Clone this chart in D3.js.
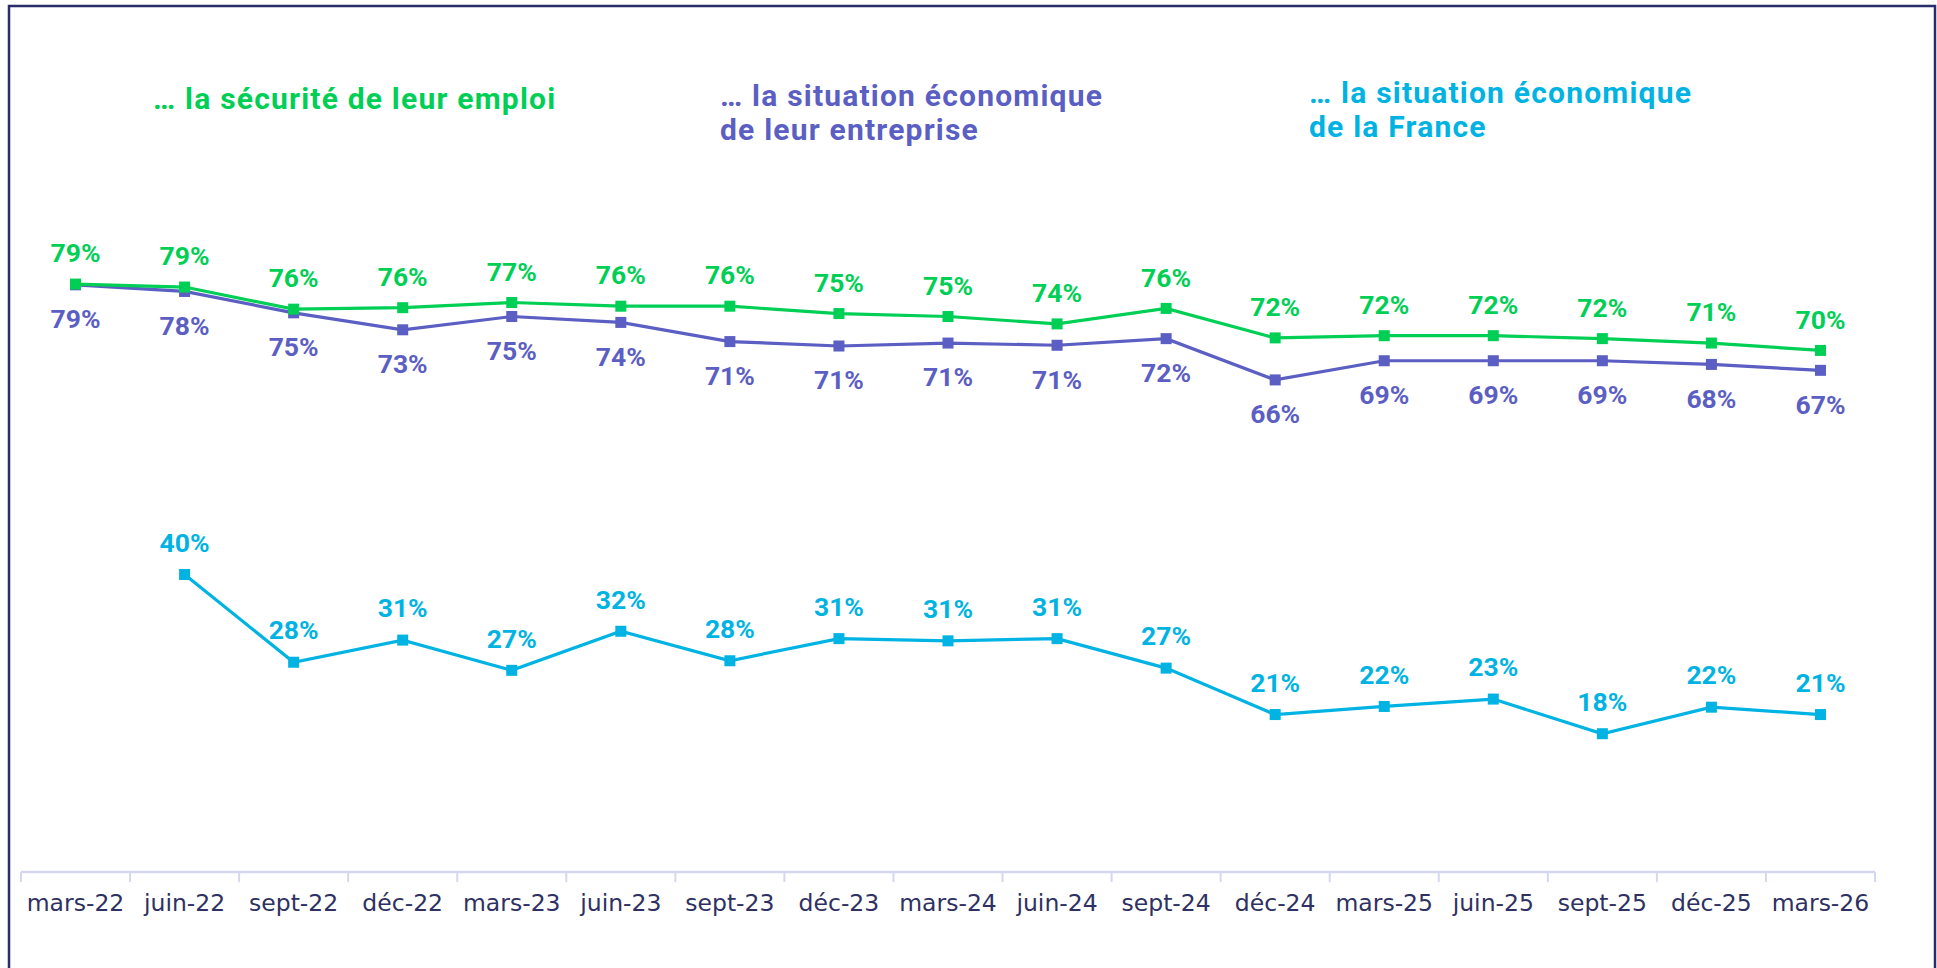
<!DOCTYPE html>
<html>
<head>
<meta charset="utf-8">
<script src="https://cdn.jsdelivr.net/npm/d3@7"></script>
<style>
  html, body { margin: 0; padding: 0; background: #ffffff; }
  svg { display: block; }
</style>
</head>
<body>
<svg id="chart" width="1937" height="968"></svg>
<script>
// ---------- data ----------
const categories = ["mars-22","juin-22","sept-22","déc-22","mars-23","juin-23","sept-23","déc-23",
  "mars-24","juin-24","sept-24","déc-24","mars-25","juin-25","sept-25","déc-25","mars-26"];

const emploi = [79.0, 78.6, 75.6, 75.8, 76.5, 76.0, 76.0, 75.0, 74.6, 73.6, 75.7, 71.7, 72.0, 72.0, 71.6, 71.0, 70.0];
const entreprise = [78.9, 78.0, 75.1, 72.8, 74.6, 73.8, 71.2, 70.6, 71.0, 70.7, 71.6, 66.0, 68.6, 68.6, 68.6, 68.1, 67.3];
const france = [null, 39.6, 27.7, 30.7, 26.6, 31.9, 27.9, 30.9, 30.6, 30.9, 26.9, 20.6, 21.7, 22.7, 18.0, 21.6, 20.6];

const seriesNames = ["… la sécurité de leur emploi",
  "… la situation économique\nde leur entreprise",
  "… la situation économique\nde la France"];
const seriesColors = ["#00cf55", "#5b5ec2", "#00b3e3"];

// ---------- layout ----------
const svg = d3.select("#chart");

// frame
svg.append("rect")
  .attr("x", 9).attr("y", 6)
  .attr("width", 1926).attr("height", 980)
  .attr("fill", "none")
  .attr("stroke", "#2b2d6a")
  .attr("stroke-width", 2.5);

const x = d3.scaleBand().domain(categories).range([21, 1875]).padding(0);
const y = d3.scaleLinear().domain([0, 100]).range([866.4, 129.3]);

const axisY = 872;

// x axis
const xAxis = d3.axisBottom(x).tickSize(0).tickPadding(0);
const gx = svg.append("g").attr("transform", `translate(0,${axisY})`).call(xAxis);
gx.select(".domain").remove();
gx.selectAll(".tick text")
  .attr("y", 31)
  .attr("dy", "0.35em")
  .attr("font-family", "'DejaVu Sans', sans-serif")
  .attr("font-size", 23.5)
  .attr("fill", "#2e3162");

// axis line and boundary ticks
svg.append("line")
  .attr("x1", x.range()[0]).attr("x2", x.range()[1])
  .attr("y1", axisY).attr("y2", axisY)
  .attr("stroke", "#d5d7f0").attr("stroke-width", 2.5);
const bounds = categories.map(c => x(c)).concat([x.range()[1]]);
svg.append("g").selectAll("line").data(bounds).join("line")
  .attr("x1", d => d).attr("x2", d => d)
  .attr("y1", axisY).attr("y2", axisY + 10)
  .attr("stroke", "#d5d7f0").attr("stroke-width", 2);

const cx = c => x(c) + x.bandwidth() / 2;

// ---------- series ----------
const series = [
  { values: emploi, color: seriesColors[0], labelDy: -31 },
  { values: entreprise, color: seriesColors[1], labelDy: 34 },
  { values: france, color: seriesColors[2], labelDy: -32 }
];

const line = d3.line()
  .defined(d => d.v !== null)
  .x(d => cx(d.c))
  .y(d => y(d.v));

const fmt = v => d3.format(".0f")(v) + "%";

[series[2], series[1], series[0]].forEach(s => {
  const pts = categories.map((c, i) => ({ c, v: s.values[i] }));
  svg.append("path")
    .datum(pts)
    .attr("d", line)
    .attr("fill", "none")
    .attr("stroke", s.color)
    .attr("stroke-width", 3.2);
  const valid = pts.filter(d => d.v !== null);
  svg.append("g").selectAll("rect").data(valid).join("rect")
    .attr("x", d => cx(d.c) - 5.5)
    .attr("y", d => y(d.v) - 5.5)
    .attr("width", 11).attr("height", 11)
    .attr("fill", s.color);
});

series.forEach(s => {
  const valid = categories.map((c, i) => ({ c, v: s.values[i] })).filter(d => d.v !== null);
  svg.append("g").selectAll("text").data(valid).join("text")
    .attr("x", d => cx(d.c))
    .attr("y", d => y(d.v) + s.labelDy)
    .attr("dy", "0.35em")
    .attr("text-anchor", "middle")
    .attr("font-family", "Roboto, sans-serif")
    .attr("font-weight", "bold")
    .attr("font-size", 26.5)
    .attr("fill", s.color)
    .text(d => fmt(d.v));
});

// ---------- titles ----------
const titlePos = [
  { x: 153, y: 98 },
  { x: 720, y: 95 },
  { x: 1309, y: 92 }
];
seriesNames.forEach((name, i) => {
  const t = svg.append("text")
    .attr("x", titlePos[i].x)
    .attr("y", titlePos[i].y)
    .attr("font-family", "Roboto, sans-serif")
    .attr("font-weight", "bold")
    .attr("font-size", 30)
    .attr("letter-spacing", 1.2)
    .attr("fill", seriesColors[i]);
  name.split("\n").forEach((ln, j) => {
    t.append("tspan")
      .attr("x", titlePos[i].x)
      .attr("y", titlePos[i].y + j * 34)
      .attr("dy", "0.35em")
      .text(ln);
  });
});
</script>
</body>
</html>
